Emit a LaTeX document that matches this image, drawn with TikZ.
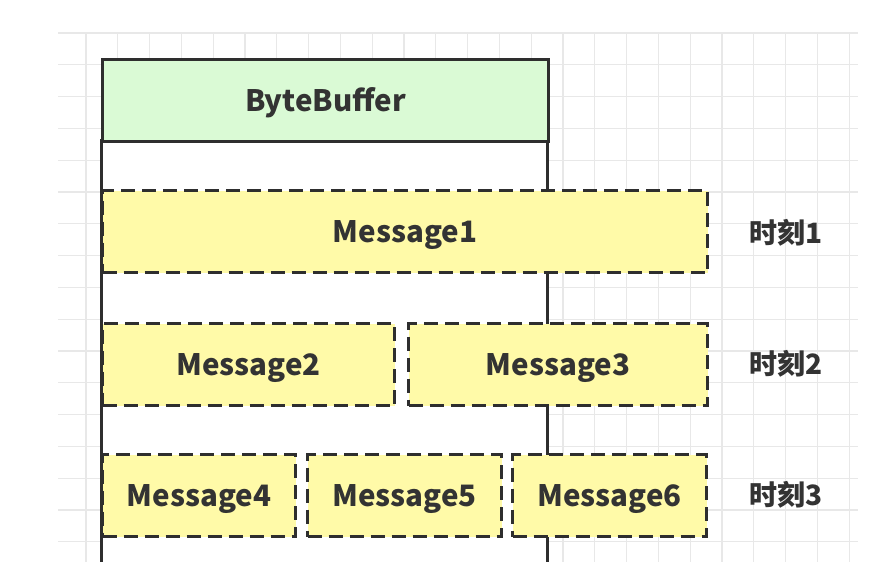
\documentclass[tikz,border=0pt]{standalone}
\usepackage{fontspec}
\setmainfont{Noto Sans CJK SC}
\begin{document}
\begin{tikzpicture}[x=1pt,y=-1pt,
  ink/.style={draw=black!82, line width=3pt},
  boxtext/.style={font=\fontsize{29.5}{32}\selectfont\bfseries, text=black!80,
    text height=21.5pt, text depth=0pt, minimum height=82pt},
  msg/.style={ink, boxtext, dash pattern=on 14pt off 7pt,
    fill={rgb,255:red,255;green,250;blue,168}},
  timelabel/.style={font=\fontsize{28}{30}\selectfont\bfseries, text=black!80}]
\useasboundingbox (0,0) rectangle (876,562);
\fill[white] (0,0) rectangle (876,562);
% background grid
\foreach \k in {0,...,16} \draw[black!9, line width=1.3pt] (58,33+31.8*\k) -- (858,33+31.8*\k);
\foreach \k in {0,...,24} \draw[black!9, line width=1.3pt] (86+31.8*\k,33) -- (86+31.8*\k,562);
% buffer container
\fill[white] (101,140) rectangle (547,570);
\draw[ink] (101,572) -- (101,140) -- (547,140) -- (547,572);
\node[ink, boxtext, fill={rgb,255:red,218;green,250;blue,213}, minimum width=446pt,
  anchor=north west] (buf) at (101,58) {ByteBuffer};
% messages
\node[msg, minimum width=605pt, anchor=north west] (m1) at (101,189) {Message1};
\node[msg, minimum width=292pt, anchor=north west] (m2) at (101,322) {Message2};
\node[msg, minimum width=299pt, anchor=north west] (m3) at (407,322) {Message3};
\node[msg, minimum width=193pt, anchor=north west] (m4) at (101,453) {Message4};
\node[msg, minimum width=194pt, anchor=north west] (m5) at (306,453) {Message5};
\node[msg, minimum width=194pt, anchor=north west] (m6) at (511,453) {Message6};
% moments
\node[timelabel] (t1) at (786,233) {时刻1};
\node[timelabel] (t2) at (786,364) {时刻2};
\node[timelabel] (t3) at (786,495) {时刻3};
\end{tikzpicture}
\end{document}
